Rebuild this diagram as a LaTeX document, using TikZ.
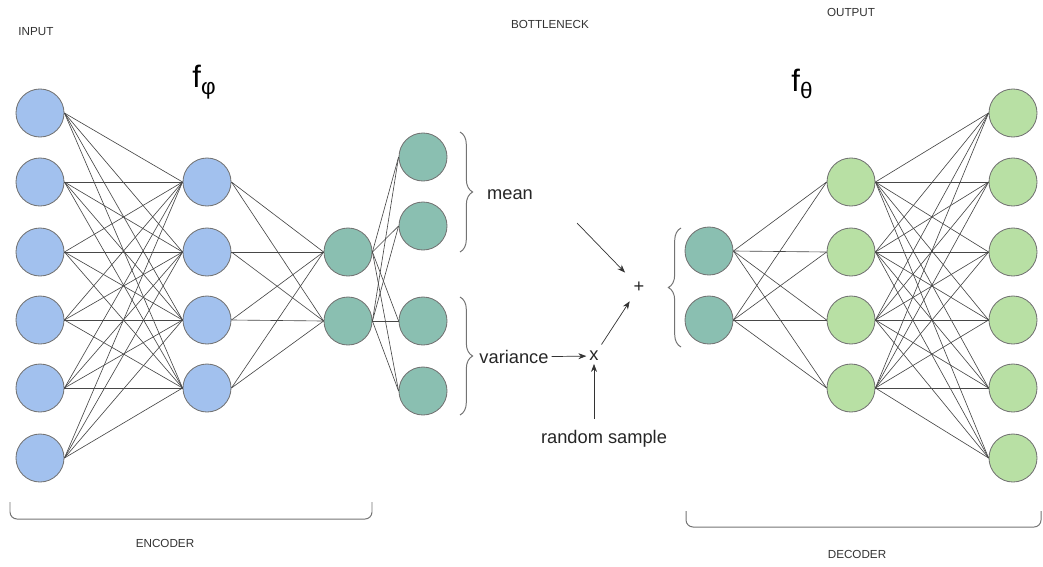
\documentclass[tikz,border=0pt]{standalone}
\usepackage{fontspec}
\setmainfont{Liberation Sans}
\usetikzlibrary{arrows.meta,decorations.pathreplacing}
\definecolor{inblue}{HTML}{A2C1EE}
\definecolor{latteal}{HTML}{8ABFB1}
\definecolor{outgreen}{HTML}{B8E0A4}
\newcommand{\greeksub}[1]{{\fontsize{16}{18}\selectfont\raisebox{-5pt}{#1}}}
\tikzset{
  unit/.style    ={circle, draw=black!55, line width=0.6pt, minimum size=1.2cm,
                   inner sep=0pt},
  inunit/.style  ={unit, fill=inblue},
  latunit/.style ={unit, fill=latteal},
  outunit/.style ={unit, fill=outgreen},
  synapse/.style ={draw=black!72, line width=0.45pt},
  flow/.style    ={-{Stealth[length=2mm,width=1.5mm]}, line width=0.5pt, draw=black!80},
  curly/.style   ={decorate, decoration={brace, amplitude=9pt}, draw=black!55,
                   line width=0.7pt},
  brk/.style     ={draw=black!55, line width=0.7pt, rounded corners=5pt},
  tag/.style     ={font=\fontsize{8.3}{10}\selectfont, text=black!80},
  lbl/.style     ={font=\fontsize{13}{15}\selectfont, text=black!85, inner sep=2pt},
  fname/.style   ={font=\fontsize{22}{24}\selectfont}
}

\begin{document}
\begin{tikzpicture}[x=0.025cm, y=-0.025cm]
  \useasboundingbox (0,0) rectangle (1043,566);

  % encoder units
  \foreach \y [count=\i] in {113,182,252,320,388,458}
    \node[inunit] (in\i) at (40,\y) {};
  \foreach \y [count=\i] in {182,252,320,388}
    \node[inunit] (enc\i) at (207,\y) {};
  \foreach \y [count=\i] in {252,321}
    \node[latunit] (code\i) at (348,\y) {};
  \foreach \y [count=\i] in {157,226,321,391}
    \node[latunit] (stat\i) at (423,\y) {};

  % decoder units
  \foreach \y [count=\i] in {251,320}
    \node[latunit] (lat\i) at (709,\y) {};
  \foreach \y [count=\i] in {182,252,320,388}
    \node[outunit] (dec\i) at (851,\y) {};
  \foreach \y [count=\i] in {113,182,252,320,388,458}
    \node[outunit] (out\i) at (1013,\y) {};

  % connections
  \foreach \a in {1,...,6} \foreach \b in {1,...,4}
    \draw[synapse] (in\a.east) -- (enc\b.west);
  \foreach \a in {1,...,4} \foreach \b in {1,2}
    \draw[synapse] (enc\a.east) -- (code\b.west);
  \foreach \a in {1,2} \foreach \b in {1,...,4}
    \draw[synapse] (code\a.east) -- (stat\b.west);
  \foreach \a in {1,2} \foreach \b in {1,...,4}
    \draw[synapse] (lat\a.east) -- (dec\b.west);
  \foreach \a in {1,...,4} \foreach \b in {1,...,6}
    \draw[synapse] (dec\a.east) -- (out\b.west);

  % headings
  \node[tag]   (inputtag)  at (36,32)   {INPUT};
  \node[tag]   (bottletag) at (550,24)  {BOTTLENECK};
  \node[tag]   (outputtag) at (851,12)  {OUTPUT};
  \node[tag]   (enctag)    at (165,543) {ENCODER};
  \node[tag]   (dectag)    at (857,554) {DECODER};
  \node[fname] (fenc)      at (204,82)  {f\greeksub{φ}};
  \node[fname] (fdec)      at (802,84)  {f\greeksub{θ}};

  % braces and brackets
  \draw[curly] (460,132) -- (460,252);
  \draw[curly] (460,297) -- (460,415);
  \draw[curly] (681,347) -- (681,228);
  \draw[brk] (10,502) -- (10,519) -- (372,519) -- (372,502);
  \draw[brk] (686,511) -- (686,527) -- (1041,527) -- (1041,511);

  % sampling
  \node[lbl] (mean)     at (510,195) {mean};
  \node[lbl] (variance) at (514,357) {variance};
  \node[lbl] (times)    at (594,356) {x};
  \node[lbl] (plus)     at (639,287) {+};
  \node[lbl] (sample)   at (604,439) {random sample};
  \coordinate (meanout) at (577,223);
  \draw[flow] (variance) -- (times);
  \draw[flow, shorten <=6pt] (sample.north -| times) -- (times);
  \draw[flow, shorten >=6pt] (meanout) -- (plus);
  \draw[flow, shorten <=3pt, shorten >=5pt] (times) -- (plus);
\end{tikzpicture}
\end{document}
